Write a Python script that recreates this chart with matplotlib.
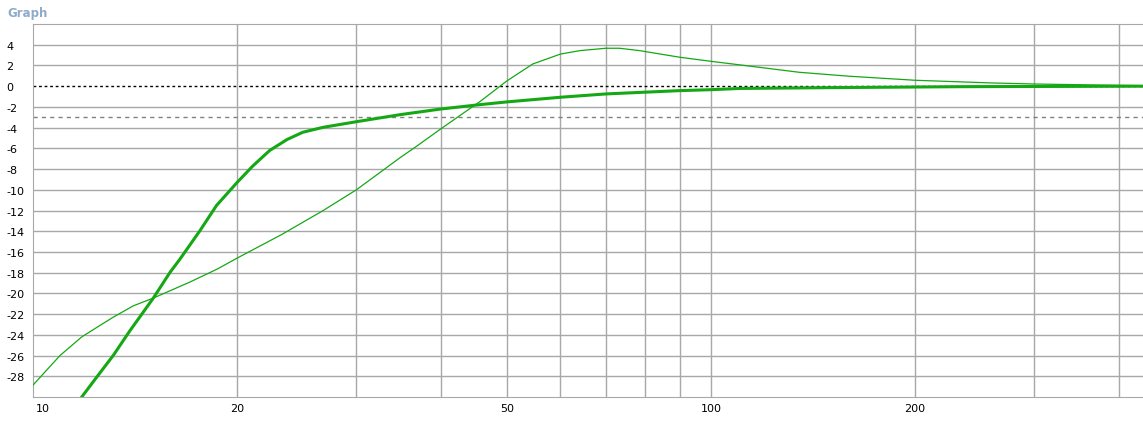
import matplotlib
matplotlib.use("Agg")
import matplotlib.pyplot as plt
import matplotlib.transforms as mtransforms

# thick curve
thick_freq = [11.8, 12.41, 13.13, 13.9, 15.05, 15.93, 16.47, 17.63, 18.66, 20, 21.1, 22.35,
              23.7, 25.0, 26.8, 30, 34.8, 40, 45.7, 50, 60, 70, 90, 100, 110.5, 151, 233, 434]
thick_db = [-30, -28.1, -26.0, -23.6, -20.45, -17.96, -16.7, -13.95, -11.5, -9.3, -7.7, -6.2,
            -5.15, -4.45, -3.97, -3.43, -2.75, -2.2, -1.78, -1.52, -1.07, -0.75, -0.43, -0.34,
            -0.22, -0.14, -0.05, 0.0]

# thin curve
thin_freq = [10, 10.96, 11.8, 12.41, 13.13, 14.06, 15.05, 17.05, 18.7, 20, 23.3, 26.8, 30,
             34.8, 36.8, 40, 45.7, 50, 54.6, 60, 64.1, 70, 73.3, 78.5, 90, 100, 110.5, 135,
             160, 200, 260, 300, 366, 434]
thin_db = [-28.85, -26.0, -24.2, -23.3, -22.3, -21.2, -20.45, -18.9, -17.65, -16.6, -14.3,
           -12.0, -10.0, -6.9, -5.8, -4.1, -1.46, 0.5, 2.14, 3.1, 3.43, 3.66, 3.66, 3.43, 2.79,
           2.4, 2.05, 1.34, 0.96, 0.57, 0.31, 0.21, 0.12, 0.05]

y_ticks = list(range(-28, 5, 2))
x_grid = [20, 30, 40, 50, 60, 70, 80, 90, 100, 200, 300, 400]
x_ticks = [10, 20, 50, 100, 200]
x_labels = ["10", "20", "50", "100", "200"]

green = "#14a814"
gridc = "#a8a8a8"

fig = plt.figure(figsize=(11.43, 4.27), dpi=100)
W, H = 1143, 427
ax = fig.add_axes([33 / W, 1 - 398 / H, (1143 - 33) / W, (398 - 25) / H])
ax.set_xscale("log")
ax.set_xlim(10, 434)
ax.set_ylim(-30, 6)

for v in x_grid:
    ax.axvline(v, color=gridc, lw=1, zorder=1)
for v in y_ticks:
    if v != 0:
        ax.axhline(v, color=gridc, lw=1, zorder=1)

ax.axhline(0, color="black", lw=1, ls=(0, (2, 2)), zorder=2)
ax.axhline(-3, color="#808080", lw=1, ls=(0, (3, 3)), zorder=2)

ax.plot(thin_freq, thin_db, color=green, lw=0.9, zorder=3)
ax.plot(thick_freq, thick_db, color=green, lw=2.2, zorder=4)

for s in ax.spines.values():
    s.set_color(gridc)
ax.spines["right"].set_visible(False)

ax.set_yticks(y_ticks)
ax.set_yticklabels([str(v) for v in y_ticks])
ax.tick_params(axis="y", length=0, pad=19, labelsize=8)
for lbl in ax.get_yticklabels():
    lbl.set_horizontalalignment("left")

ax.set_xticks(x_ticks)
ax.set_xticklabels(x_labels)
ax.xaxis.set_minor_locator(matplotlib.ticker.NullLocator())
ax.tick_params(axis="x", length=0, pad=4, labelsize=8)
first = ax.get_xticklabels()[0]
first.set_transform(first.get_transform() + mtransforms.ScaledTranslation(10 / 100, 0, fig.dpi_scale_trans))

fig.text(7 / W, 1 - 13 / H, "Graph", color="#8eabc9", fontsize=8.5, fontweight="bold",
         ha="left", va="center")

fig.savefig("out.png", dpi=100)
